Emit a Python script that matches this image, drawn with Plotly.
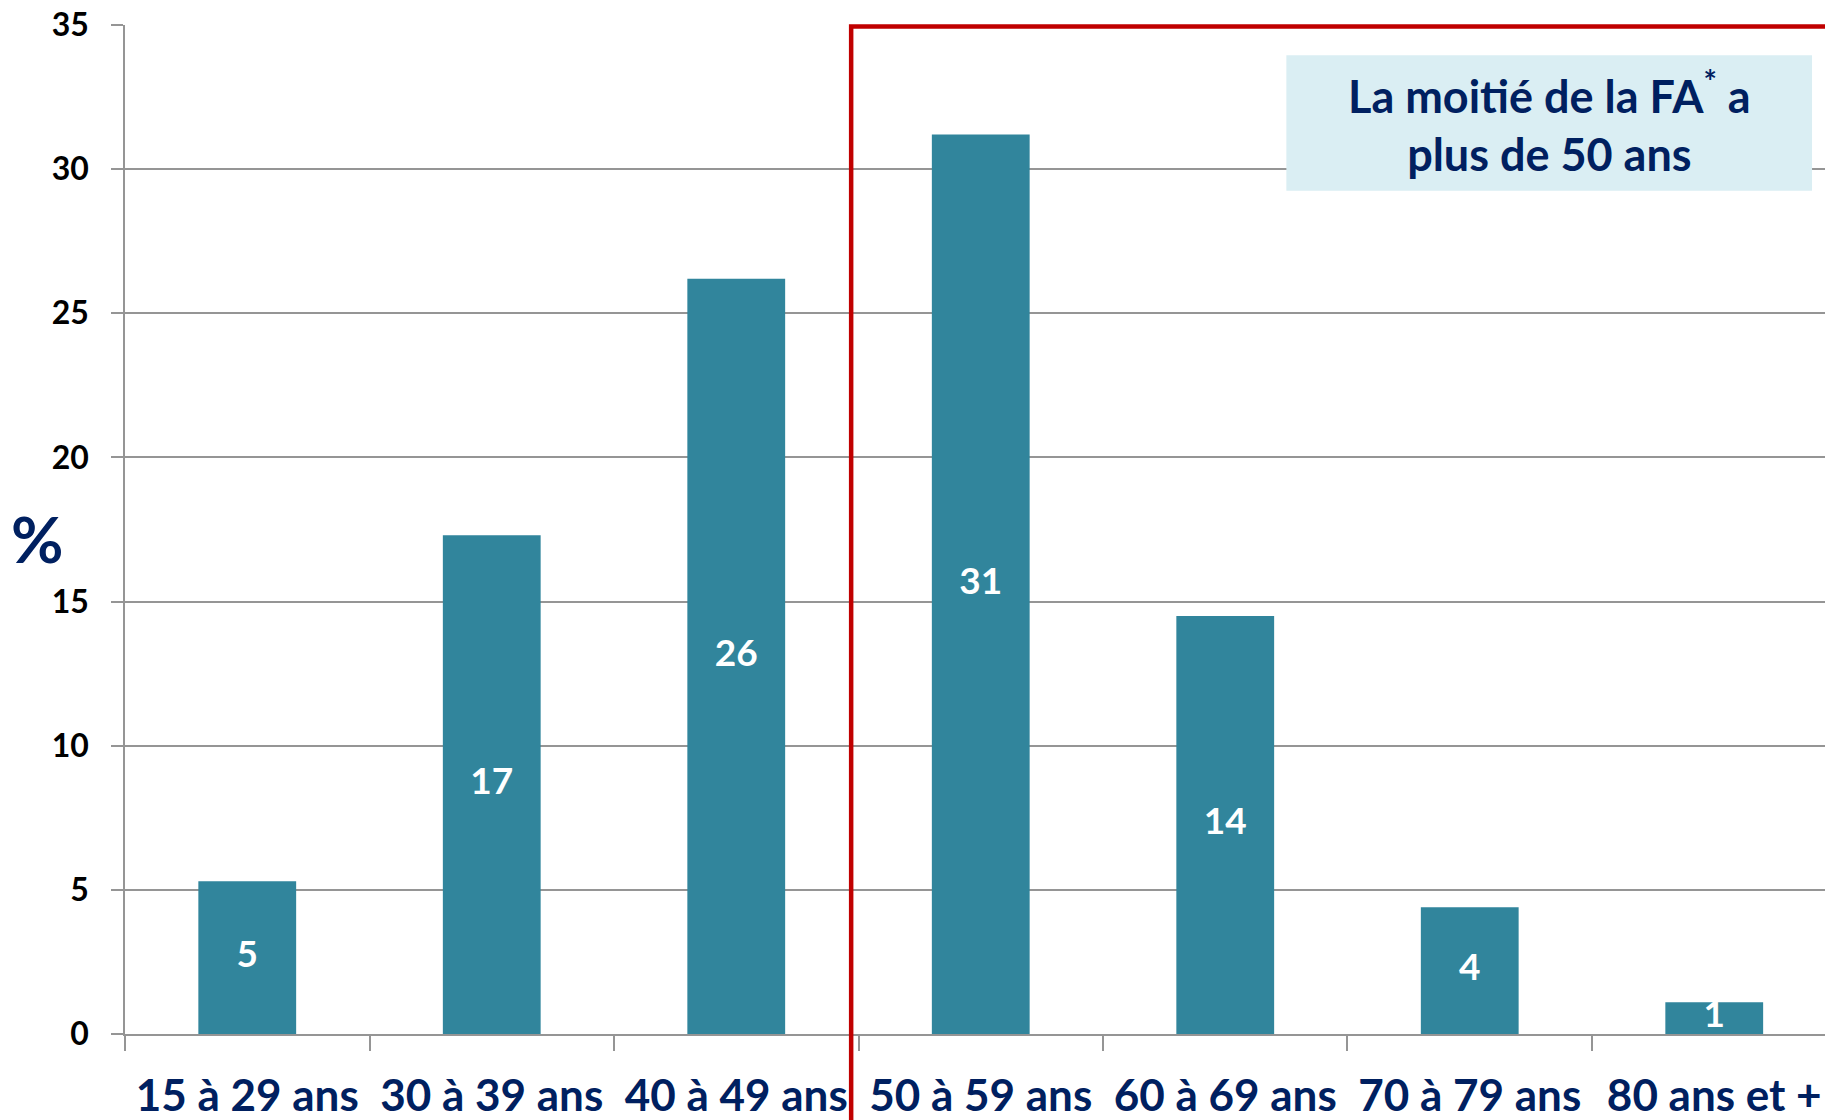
import plotly.graph_objects as go

categories = ["15 à 29 ans", "30 à 39 ans", "40 à 49 ans", "50 à 59 ans",
              "60 à 69 ans", "70 à 79 ans", "80 ans et +"]
values = [5.3, 17.3, 26.2, 31.2, 14.5, 4.4, 1.1]
labels = ["5", "17", "26", "31", "14", "4", "1"]
y_ticks = [0, 5, 10, 15, 20, 25, 30, 35]

NAVY = "#002060"
BAR = "#31859C"
RED = "#C00000"
GRID = "#959595"
FONT = "Lato"

fig = go.Figure()
fig.add_trace(go.Bar(
    x=categories, y=values, width=0.4,
    marker=dict(color=BAR, line=dict(width=0)),
    hoverinfo="skip",
))
fig.add_trace(go.Scatter(
    x=categories, y=[v / 2 for v in values], mode="text",
    text=labels, textposition="middle center",
    textfont=dict(family=FONT, size=37, color="white", weight="bold"),
    hoverinfo="skip", cliponaxis=False,
))

# red frame around the 50+ part
fig.add_shape(type="path", xref="x", yref="paper",
              path="M 2.47,-0.2 L 2.47,0.9985 L 7.5,0.9985",
              line=dict(color=RED, width=4.5), layer="above")

# callout box
fig.add_shape(type="rect", xref="x", yref="y",
              x0=4.25, x1=6.4, y0=29.25, y1=33.95,
              fillcolor="#DAEEF3", line=dict(width=0), layer="above")
fig.add_annotation(xref="x", yref="y", x=5.325, y=31.62,
                   text="La moitié de la FA<sup>*</sup> a<br>plus de 50 ans",
                   showarrow=False, align="center",
                   font=dict(family=FONT, size=45, color=NAVY, weight="bold"))

# % axis label
fig.add_annotation(xref="paper", yref="paper", x=-0.052, y=0.4906,
                   text="%", showarrow=False, xanchor="center", yanchor="middle",
                   font=dict(family=FONT, size=64, color=NAVY, weight="bold"))

fig.update_layout(
    width=1825, height=1120,
    margin=dict(l=125, r=0, t=25, b=82),
    paper_bgcolor="white", plot_bgcolor="white",
    showlegend=False, hovermode=False,
    bargap=0.6,
)
fig.update_xaxes(
    range=[-0.5, 6.453], showgrid=False,
    showline=True, linecolor=GRID, linewidth=1.5,
    ticks="outside", tickson="boundaries", ticklen=15, tickcolor=GRID, tickwidth=1.5,
    tickfont=dict(family=FONT, size=44, color=NAVY, weight="bold"),
    ticklabelstandoff=22,
)
fig.update_yaxes(
    range=[0, 35], tickvals=y_ticks,
    showgrid=True, gridcolor=GRID, gridwidth=1.5,
    showline=True, linecolor=GRID, linewidth=1.5,
    ticks="outside", ticklen=12, tickcolor=GRID, tickwidth=1.5,
    tickfont=dict(family=FONT, size=32, color="black", weight="bold"),
    ticklabelstandoff=16, zeroline=False,
)

fig.write_html("out.html", config={"displayModeBar": False},
               post_script="document.body.style.margin='0';document.body.style.overflow='hidden';")
